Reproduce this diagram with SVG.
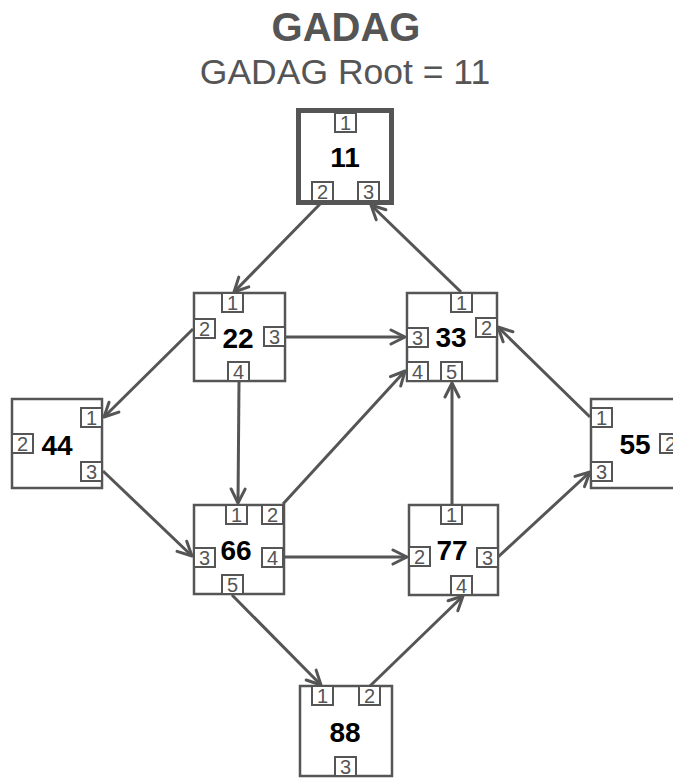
<svg xmlns="http://www.w3.org/2000/svg" width="673" height="778" viewBox="0 0 673 778">
<defs>
<style>
.title{font-family:"Liberation Sans",Arial,sans-serif;font-weight:bold;font-size:40px;fill:#555;text-anchor:middle}
.sub{font-family:"Liberation Sans",Arial,sans-serif;font-size:35.5px;fill:#555;text-anchor:middle}
.node{fill:#fff;stroke:#555;stroke-width:2.5}
.root{fill:#fff;stroke:#555;stroke-width:5}
.port{fill:#fff;stroke:#555;stroke-width:2}
.pt{font-family:"Liberation Sans",Arial,sans-serif;font-size:20px;fill:#555;text-anchor:middle}
.lbl{font-family:"Liberation Sans",Arial,sans-serif;font-weight:bold;font-size:28px;fill:#000;text-anchor:middle}
.edge{stroke:#555;stroke-width:3;fill:none;marker-end:url(#arr)}
</style>
<marker id="arr" markerUnits="userSpaceOnUse" viewBox="-16 -10 20 20" markerWidth="20" markerHeight="20" refX="0" refY="0" orient="auto">
<path d="M-14,-7 L0,0 L-14,7" fill="none" stroke="#555" stroke-width="3" stroke-linecap="round" stroke-linejoin="round"/>
</marker>
</defs>
<text class="title" x="346" y="41">GADAG</text>
<text class="sub" x="345" y="84">GADAG Root = 11</text>

<g id="connectors">
<line class="edge" x1="321" y1="203" x2="234" y2="292"/>
<line class="edge" x1="461" y1="292" x2="371" y2="205"/>
<line class="edge" x1="286" y1="337" x2="405" y2="337"/>
<line class="edge" x1="193" y1="329" x2="104" y2="417"/>
<line class="edge" x1="239" y1="382" x2="238" y2="503"/>
<line class="edge" x1="103" y1="471" x2="192" y2="556"/>
<line class="edge" x1="283" y1="504" x2="405" y2="371"/>
<line class="edge" x1="284" y1="557" x2="407" y2="557"/>
<line class="edge" x1="452" y1="504" x2="452" y2="383"/>
<line class="edge" x1="590" y1="417" x2="498" y2="327"/>
<line class="edge" x1="498" y1="557" x2="590" y2="472"/>
<line class="edge" x1="232" y1="595" x2="321" y2="685"/>
<line class="edge" x1="370" y1="686" x2="463" y2="596"/>
</g>

<g id="n11">
<rect class="root" x="298.5" y="110.5" width="93" height="92"/>
<rect class="port" x="335" y="113" width="21" height="19"/><text class="pt" x="345.5" y="130">1</text>
<rect class="port" x="312" y="182" width="21" height="19"/><text class="pt" x="322.5" y="199">2</text>
<rect class="port" x="358" y="182" width="21" height="19"/><text class="pt" x="368.5" y="199">3</text>
<text class="lbl" x="345" y="167">11</text>
</g>

<g id="n22">
<rect class="node" x="194" y="293" width="91" height="88"/>
<rect class="port" x="222" y="293" width="21" height="19"/><text class="pt" x="232.5" y="310">1</text>
<rect class="port" x="194" y="319" width="21" height="19"/><text class="pt" x="204.5" y="336">2</text>
<rect class="port" x="264" y="327" width="21" height="19"/><text class="pt" x="274.5" y="344">3</text>
<rect class="port" x="228" y="362" width="21" height="19"/><text class="pt" x="238.5" y="379">4</text>
<text class="lbl" x="238" y="348">22</text>
</g>

<g id="n33">
<rect class="node" x="407" y="293" width="90" height="88"/>
<rect class="port" x="451" y="293" width="21" height="19"/><text class="pt" x="461.5" y="310">1</text>
<rect class="port" x="476" y="318" width="21" height="19"/><text class="pt" x="486.5" y="335">2</text>
<rect class="port" x="407" y="328" width="21" height="19"/><text class="pt" x="417.5" y="345">3</text>
<rect class="port" x="407" y="362" width="21" height="19"/><text class="pt" x="417.5" y="379">4</text>
<rect class="port" x="441" y="362" width="21" height="19"/><text class="pt" x="451.5" y="379">5</text>
<text class="lbl" x="451" y="347">33</text>
</g>

<g id="n44">
<rect class="node" x="12" y="399" width="90" height="89"/>
<rect class="port" x="81" y="408" width="21" height="19"/><text class="pt" x="91.5" y="425">1</text>
<rect class="port" x="12" y="434" width="21" height="19"/><text class="pt" x="22.5" y="451">2</text>
<rect class="port" x="81" y="462" width="21" height="19"/><text class="pt" x="91.5" y="479">3</text>
<text class="lbl" x="57" y="455">44</text>
</g>

<g id="n55">
<rect class="node" x="591" y="399" width="91" height="89"/>
<rect class="port" x="591" y="408" width="21" height="19"/><text class="pt" x="601.5" y="425">1</text>
<rect class="port" x="660" y="434" width="21" height="19"/><text class="pt" x="670.5" y="451">2</text>
<rect class="port" x="591" y="462" width="21" height="19"/><text class="pt" x="601.5" y="479">3</text>
<text class="lbl" x="635" y="454">55</text>
</g>

<g id="n66">
<rect class="node" x="194" y="505" width="90" height="89"/>
<rect class="port" x="226" y="505" width="21" height="19"/><text class="pt" x="236.5" y="522">1</text>
<rect class="port" x="262" y="505" width="21" height="19"/><text class="pt" x="272.5" y="522">2</text>
<rect class="port" x="194" y="548" width="21" height="19"/><text class="pt" x="204.5" y="565">3</text>
<rect class="port" x="262" y="548" width="21" height="19"/><text class="pt" x="272.5" y="565">4</text>
<rect class="port" x="222" y="575" width="21" height="19"/><text class="pt" x="232.5" y="592">5</text>
<text class="lbl" x="236" y="560">66</text>
</g>

<g id="n77">
<rect class="node" x="409" y="505" width="89" height="90"/>
<rect class="port" x="441" y="505" width="21" height="19"/><text class="pt" x="451.5" y="522">1</text>
<rect class="port" x="409" y="547" width="21" height="19"/><text class="pt" x="419.5" y="564">2</text>
<rect class="port" x="477" y="548" width="21" height="19"/><text class="pt" x="487.5" y="565">3</text>
<rect class="port" x="451" y="576" width="21" height="19"/><text class="pt" x="461.5" y="593">4</text>
<text class="lbl" x="452" y="560">77</text>
</g>

<g id="n88">
<rect class="node" x="300" y="686" width="92" height="90"/>
<rect class="port" x="312" y="686" width="21" height="19"/><text class="pt" x="322.5" y="703">1</text>
<rect class="port" x="359" y="686" width="21" height="19"/><text class="pt" x="369.5" y="703">2</text>
<rect class="port" x="335" y="757" width="21" height="19"/><text class="pt" x="345.5" y="774">3</text>
<text class="lbl" x="345" y="742">88</text>
</g>
</svg>
